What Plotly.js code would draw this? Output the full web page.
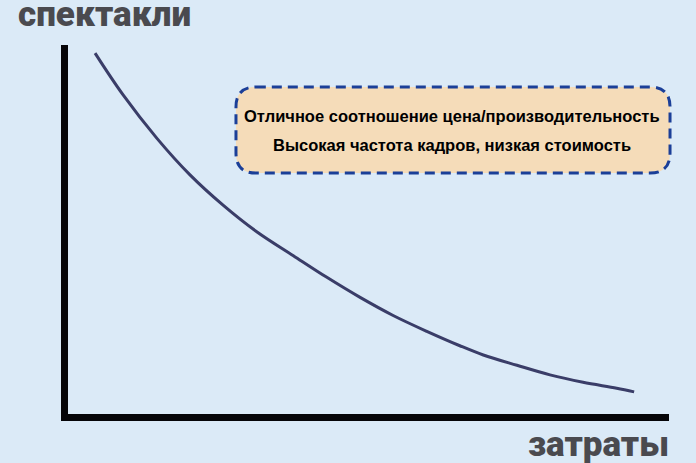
<!DOCTYPE html>
<html>
<head>
<meta charset="utf-8">
<script src="https://cdn.plot.ly/plotly-3.0.1.min.js"></script>
<style>
	html, body { margin: 0; padding: 0; background: #dbeaf7; }
	#chart { width: 696px; height: 463px; }
</style>
</head>
<body>
<div id="chart"></div>
<script>
// cost (x) vs performance (y)
const costs = [0.45, 0.92, 1.48, 2.03, 2.58, 3.14, 3.75, 4.30, 4.86, 5.41, 5.97, 6.52, 6.91, 7.47, 8.02, 8.57, 9.13, 9.42];
const perf = [9.78, 8.64, 7.47, 6.48, 5.66, 4.94, 4.29, 3.71, 3.16, 2.67, 2.24, 1.85, 1.60, 1.32, 1.06, 0.86, 0.70, 0.60];

const xLabel = 'затраты';
const yLabel = 'спектакли';
const noteLines = [
	'Отличное соотношение цена/производительность',
	'Высокая частота кадров, низкая стоимость'
];

const bg = '#dbeaf7';
const labelFont = { family: 'Roboto, sans-serif', size: 35, color: '#4a4a4f', weight: 900 };
const noteFont = { family: 'Liberation Sans, Arial, sans-serif', size: 16.5, color: '#000', weight: 700 };

// rounded box in paper coords
const bx0 = 0.2795, bx1 = 1.0017, by0 = 0.653, by1 = 0.886;
const rx = 0.033, ry = 0.054;
const boxPath = [
	`M ${bx0 + rx} ${by1}`,
	`L ${bx1 - rx} ${by1}`,
	`Q ${bx1} ${by1} ${bx1} ${by1 - ry}`,
	`L ${bx1} ${by0 + ry}`,
	`Q ${bx1} ${by0} ${bx1 - rx} ${by0}`,
	`L ${bx0 + rx} ${by0}`,
	`Q ${bx0} ${by0} ${bx0} ${by0 + ry}`,
	`L ${bx0} ${by1 - ry}`,
	`Q ${bx0} ${by1} ${bx0 + rx} ${by1}`,
	'Z'
].join(' ');

const data = [{
	x: costs,
	y: perf,
	type: 'scatter',
	mode: 'lines',
	line: { color: '#3a3d68', width: 3, shape: 'spline', smoothing: 1 },
	hoverinfo: 'skip',
	showlegend: false
}];

const layout = {
	width: 696,
	height: 463,
	margin: { l: 68, r: 27, t: 45, b: 49 },
	paper_bgcolor: bg,
	plot_bgcolor: bg,
	showlegend: false,
	xaxis: {
		range: [0, 10],
		showgrid: false,
		zeroline: false,
		showticklabels: false,
		ticks: '',
		showline: true,
		linecolor: '#050508',
		linewidth: 7
	},
	yaxis: {
		range: [0, 10],
		showgrid: false,
		zeroline: false,
		showticklabels: false,
		ticks: '',
		showline: true,
		linecolor: '#050508',
		linewidth: 7
	},
	shapes: [{
		type: 'path',
		xref: 'paper',
		yref: 'paper',
		path: boxPath,
		fillcolor: '#f5dcb9',
		line: { color: '#1b3f98', width: 3, dash: '10px,6px' },
		layer: 'above'
	}],
	annotations: [
		{
			text: yLabel,
			xref: 'paper', yref: 'paper',
			x: -0.0857, y: 1.0827,
			xanchor: 'left', yanchor: 'middle',
			showarrow: false,
			font: labelFont
		},
		{
			text: xLabel,
			xref: 'paper', yref: 'paper',
			x: 1.003, y: -0.084,
			xanchor: 'right', yanchor: 'middle',
			showarrow: false,
			font: labelFont
		},
		{
			text: '<b>' + noteLines[0] + '</b>',
			xref: 'paper', yref: 'paper',
			x: 0.639, y: 0.8076,
			xanchor: 'center', yanchor: 'middle',
			showarrow: false,
			font: noteFont
		},
		{
			text: '<b>' + noteLines[1] + '</b>',
			xref: 'paper', yref: 'paper',
			x: 0.639, y: 0.730,
			xanchor: 'center', yanchor: 'middle',
			showarrow: false,
			font: noteFont
		}
	]
};

Plotly.newPlot('chart', data, layout, { displayModeBar: false, staticPlot: true });
</script>
</body>
</html>
